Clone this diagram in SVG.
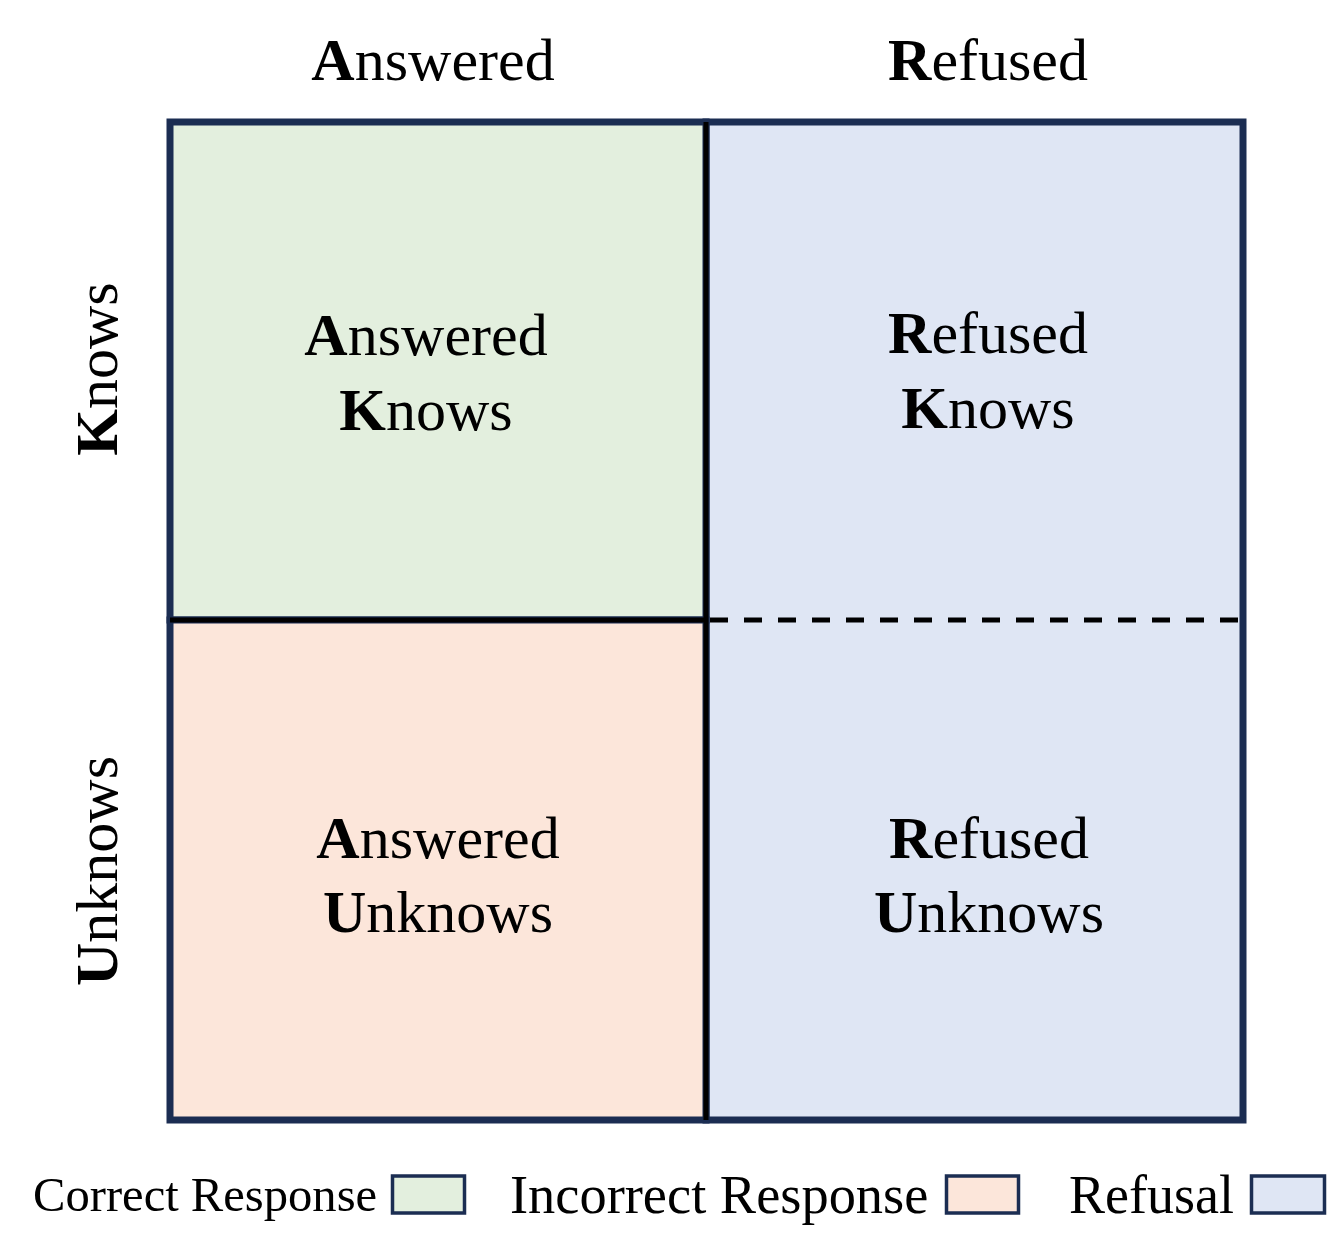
<svg xmlns="http://www.w3.org/2000/svg" width="1329" height="1259" viewBox="0 0 1329 1259">
<style>
text{font-family:"Liberation Serif","Times New Roman",serif;fill:#000}
.h{font-size:60px;text-anchor:middle}
.b{font-weight:bold}
.cell{stroke:#1B2D52;stroke-width:7}
.leg{stroke:#1B2D52;stroke-width:3.5}
.g{fill:#E3EFDE}
.p{fill:#FCE6DA}
.bl{fill:#DFE6F4}
</style>
<rect width="1329" height="1259" fill="#fff"/>
<g id="header-answered"><text class="h" x="433" y="80"><tspan class="b">A</tspan>nswered</text></g>
<g id="header-refused"><text class="h" x="988" y="80"><tspan class="b">R</tspan>efused</text></g>
<g id="label-knows"><text class="h" transform="translate(117,369) rotate(-90)"><tspan class="b">K</tspan>nows</text></g>
<g id="label-unknows"><text class="h" transform="translate(117,871) rotate(-90)"><tspan class="b">U</tspan>nknows</text></g>
<g id="cell-refused">
<rect class="cell bl" x="706" y="122" width="537" height="998"/>
</g>
<g id="cell-answered-knows">
<rect class="cell g" x="170" y="122" width="536" height="498"/>
</g>
<g id="cell-answered-unknows">
<rect class="cell p" x="170" y="620" width="536" height="500"/>
</g>
<g id="connectors">
<line x1="706" y1="122" x2="706" y2="1120" stroke="#000" stroke-width="5"/>
<line x1="170" y1="620" x2="706" y2="620" stroke="#000" stroke-width="5"/>
<line x1="710" y1="620" x2="1243" y2="620" stroke="#000" stroke-width="5" stroke-dasharray="18 16"/>
</g>
<g id="text-ak"><text class="h" x="426" y="355"><tspan class="b">A</tspan>nswered</text><text class="h" x="426" y="430"><tspan class="b">K</tspan>nows</text></g>
<g id="text-rk"><text class="h" x="988" y="353"><tspan class="b">R</tspan>efused</text><text class="h" x="988" y="428"><tspan class="b">K</tspan>nows</text></g>
<g id="text-au"><text class="h" x="438" y="858"><tspan class="b">A</tspan>nswered</text><text class="h" x="438" y="932"><tspan class="b">U</tspan>nknows</text></g>
<g id="text-ru"><text class="h" x="989" y="858"><tspan class="b">R</tspan>efused</text><text class="h" x="989" y="932"><tspan class="b">U</tspan>nknows</text></g>
<g id="legend">
<text x="33" y="1211" font-size="48.6">Correct Response</text>
<rect class="leg g" x="392.5" y="1176" width="72" height="37"/>
<text x="510" y="1213" font-size="54.4">Incorrect Response</text>
<rect class="leg p" x="946.5" y="1176" width="72" height="37"/>
<text x="1069" y="1213" font-size="54">Refusal</text>
<rect class="leg bl" x="1251.5" y="1176" width="73" height="37"/>
</g>
</svg>
